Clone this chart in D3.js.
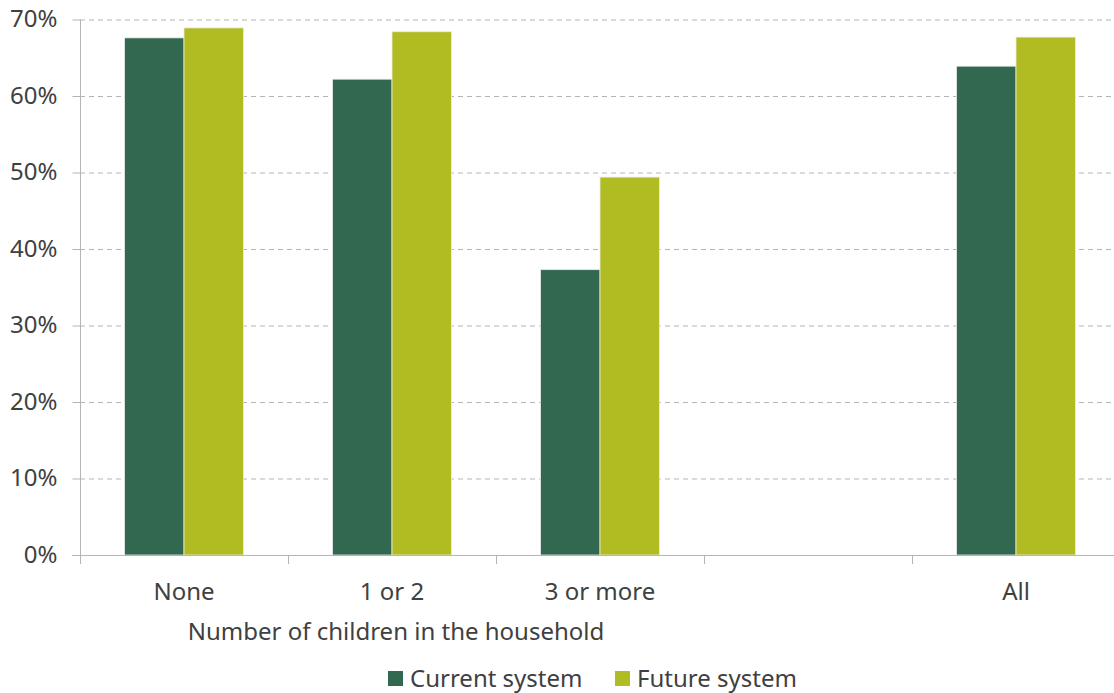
<!DOCTYPE html>
<html><head><meta charset="utf-8">
<script src="https://cdn.jsdelivr.net/npm/d3@7"></script>
<style>body{margin:0;background:#fff;} text{font-family:"Noto Sans",sans-serif;}</style>
</head><body><svg id="c" width="1114" height="693"></svg>
<script>
const categories = ["None", "1 or 2", "3 or more", "", "All"];
const seriesNames = ["Current system", "Future system"];
const currentSystem = [67.6, 62.2, 37.3, null, 63.9];
const futureSystem = [68.9, 68.4, 49.4, null, 67.7];
const yTicks = [0, 10, 20, 30, 40, 50, 60, 70];
const colors = ["#336850", "#b0bc22"];
const FS = "24px";

const svg = d3.select("#c");
const x = d3.scaleBand().domain(categories.map((d,i)=>i)).range([80, 1120]).paddingInner(0).paddingOuter(0);
const y = d3.scaleLinear().domain([0, 70]).range([555, 19.5]);
const x1 = d3.scaleBand().domain([0,1]).range([0, x.bandwidth()]).paddingOuter(0.75).paddingInner(0);

// gridlines
svg.append("g").selectAll("line").data(yTicks.filter(d=>d>0)).join("line")
  .attr("x1", 80).attr("x2", 1114).attr("y1", d=>y(d)+0.5).attr("y2", d=>y(d)+0.5)
  .attr("stroke", "#b5b5b5").attr("stroke-width", 1).attr("stroke-dasharray", "5,4");

// y axis
const yAxis = svg.append("g").attr("transform", "translate(80.5,0)")
  .call(d3.axisLeft(y).tickValues(yTicks).tickFormat(d=>d+"%").tickSize(8).tickPadding(15));
yAxis.select(".domain").attr("stroke", "#b5b5b5").attr("d", "M0,"+y(70)+"V563");
yAxis.selectAll(".tick line").attr("stroke", "#b5b5b5");
yAxis.selectAll(".tick text").attr("fill", "#404040").style("font-size", FS).attr("dy", "0.3em");

// bars
const data = categories.map((c,i)=>({i, vals:[currentSystem[i], futureSystem[i]]}));
const g = svg.append("g").selectAll("g").data(data).join("g")
  .attr("transform", d=>`translate(${x(d.i)},0)`);
g.selectAll("rect").data(d=>d.vals.map((v,k)=>({v,k})).filter(e=>e.v!=null)).join("rect")
  .attr("x", e=>x1(e.k)).attr("width", x1.bandwidth())
  .attr("y", e=>y(e.v)).attr("height", e=>y(0)-y(e.v))
  .attr("fill", e=>colors[e.k]).attr("stroke", "#e8ece8").attr("stroke-width", 0.8);

// x axis
const xAxis = svg.append("g").attr("transform", "translate(0,555.5)")
  .call(d3.axisBottom(x).tickFormat(i=>categories[i]).tickSize(0).tickPadding(27));
xAxis.select(".domain").attr("stroke", "#b5b5b5").attr("d", "M72,0H1114");
xAxis.selectAll(".tick text").attr("fill", "#404040").style("font-size", FS);
svg.append("g").selectAll("line").data(categories.map((c,i)=>i)).join("line")
  .attr("x1", i=>Math.round(x(i))+0.5).attr("x2", i=>Math.round(x(i))+0.5)
  .attr("y1", 555).attr("y2", 564).attr("stroke", "#b5b5b5");

// axis title
svg.append("text").attr("x", 396).attr("y", 640).attr("text-anchor", "middle")
  .attr("fill", "#404040").style("font-size", FS).text("Number of children in the household");

// legend
const legX = [388, 615];
const lg = svg.append("g").selectAll("g").data(seriesNames).join("g")
  .attr("transform", (d,i)=>`translate(${legX[i]},671)`);
lg.append("rect").attr("width", 15).attr("height", 15).attr("fill", (d,i)=>colors[i]);
lg.append("text").attr("x", 22).attr("y", 15.5).attr("fill", "#404040").style("font-size", FS).text(d=>d);
</script></body></html>
